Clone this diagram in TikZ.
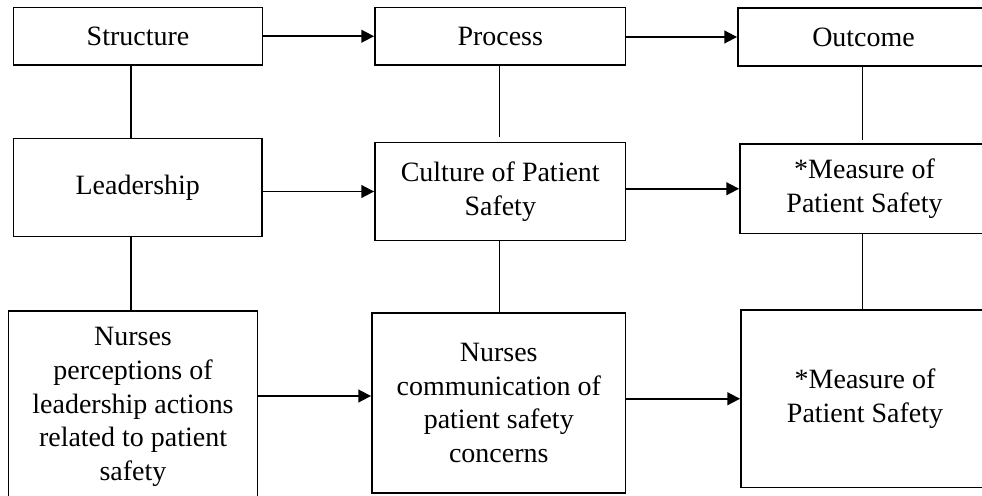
\documentclass[tikz,border=0pt]{standalone}
\usepackage{fontspec}
\setmainfont{Liberation Serif}
\usetikzlibrary{arrows.meta}

\begin{document}
\begin{tikzpicture}[x=0.429pt, y=-0.429pt,
        box/.style 2 args={draw, line width=0.8pt, align=center, inner sep=0pt,
            minimum width=#1*0.429pt, minimum height=#2*0.429pt,
            font=\fontsize{12pt}{14.5pt}\selectfont},
        arr/.style={line width=0.8pt, -{Triangle[length=5.5pt,width=5.5pt]}},
        link/.style={line width=0.8pt}]
        % 画面范围
        \useasboundingbox (0,0) rectangle (982,495);
        \clip (0,0) rectangle (982,495);

        % 第一行
        \node[box={249}{57.5}] (strc) at (138,36.25) {Structure};
        \node[box={250.5}{57.5}] (proc) at (500.25,36.25) {Process};
        \node[box={251}{58}] (outc) at (863.5,37) {Outcome};

        % 第二行
        \node[box={248.5}{98}] (lead) at (137.75,187.5) {Leadership};
        \node[box={250.5}{98}] (cult) at (500.25,191.5) {Culture of Patient\\Safety};
        \node[box={249}{89.5}] (meas1) at (864.5,188.75) {*Measure of\\Patient Safety};

        % 第三行
        \node[box={249}{192}] (perc) at (133,407) {Nurses\\perceptions of\\leadership actions\\related to patient\\safety};
        \node[box={253.5}{180}] (comm) at (498.75,403) {Nurses\\communication of\\patient safety\\concerns};
        \node[box={248}{177.5}] (meas2) at (865,398.75) {*Measure of\\Patient Safety};

        % 竖线所在的列
        \coordinate (col1) at (131,0);
        \coordinate (col2) at (499.5,0);
        \coordinate (col3) at (862.5,0);
        \coordinate (row3) at (0,396);

        % 竖线
        \draw[link] (strc.south -| col1) -- (lead.north -| col1);
        \draw[link] (lead.south -| col1) -- (perc.north -| col1);
        \draw[link, shorten >=2pt] (proc.south -| col2) -- (cult.north -| col2);
        \draw[link] (cult.south -| col2) -- (comm.north -| col2);
        \draw[link, shorten >=1.5pt] (outc.south -| col3) -- (meas1.north -| col3);
        \draw[link] (meas1.south -| col3) -- (meas2.north -| col3);

        % 箭头
        \draw[arr] (strc.east) -- (strc.east -| proc.west);
        \draw[arr] (outc.west -| proc.east) -- (outc.west);
        \draw[arr] (cult.west -| lead.east) -- (cult.west);
        \draw[arr] (meas1.west -| cult.east) -- (meas1.west);
        \draw[arr] (perc.east |- row3) -- (comm.west |- row3);
        \draw[arr] (meas2.west -| comm.east) -- (meas2.west);
    \end{tikzpicture}
\end{document}
